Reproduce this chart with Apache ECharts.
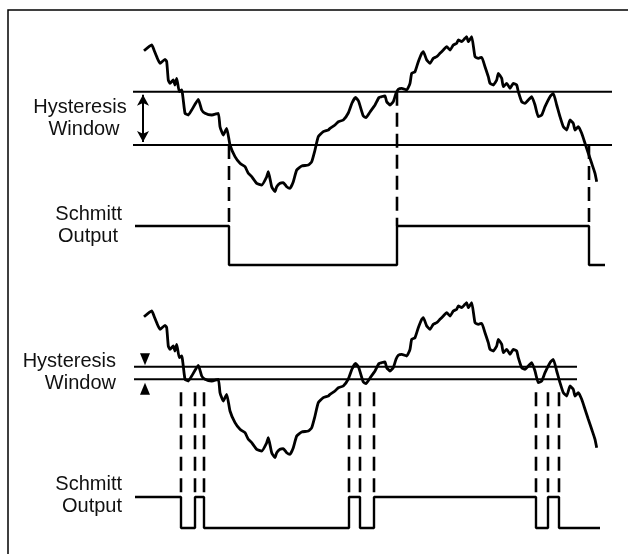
<!DOCTYPE html>
<html>
<head>
<meta charset="utf-8">
<title>Schmitt trigger hysteresis</title>
<script src="https://cdn.jsdelivr.net/npm/echarts@6/dist/echarts.min.js"></script>
<style>
  html, body { margin: 0; padding: 0; background: #fff; }
  #main { width: 628px; height: 554px; }
</style>
</head>
<body>
<div id="main"></div>
<script>
// input signal (time, level) - same noisy wave used in both panels
var sigT = [14, 21.7, 24, 26.7, 30, 35, 36.7, 38.3, 40, 43.3, 45, 46.7, 49.3, 51.7, 55, 58.3, 61.7, 68.3, 71.7, 75,
  81.7, 88.3, 90, 93.3, 96.7, 100, 105, 110, 115, 118.3, 121.7, 126.7, 131.7, 136.7, 138.3, 141.7, 145, 146.7, 150, 153.3,
  156.7, 160, 163.3, 166.7, 171.7, 178.3, 181.7, 185, 188.3, 193.3, 198.3, 200, 205, 208.3, 213.3, 218.3, 222, 225.5, 228.5, 233.3,
  236, 240, 245, 249, 252, 255, 256.7, 260, 263.3, 266, 268.3, 271.7, 276.7, 280, 281.7, 285, 288.3, 291.7, 293.3, 296.7,
  300, 303.3, 306.7, 310, 313.3, 316.7, 320, 323.3, 326.7, 328.3, 331.7, 335, 336.7, 338.3, 341.7, 345, 348.3, 351.7, 355, 358.3,
  360, 363.3, 366.7, 368.3, 371.7, 373.3, 376.7, 380, 383.3, 386.7, 388.3, 391.7, 395, 398.3, 401.7, 405, 408.3, 411.7, 415, 420,
  423.3, 426.7, 430, 433.3, 436.7, 440, 443.3, 445, 448.3, 451.7, 455, 458.3, 461.7, 465, 466.7];
var sigV = [149.3, 155, 150, 143.3, 136.7, 140.7, 138.3, 120, 116.7, 120, 115, 121.7, 108.3, 110, 86.7, 85, 90, 100.5, 90, 86.7,
  85, 86.7, 73.3, 65, 71.7, 55, 43.3, 36.7, 33.3, 26.7, 23.3, 16.7, 15, 23.3, 28.3, 13.3, 8.3, 13.3, 16.7, 17.3,
  13.3, 11.7, 18.3, 30, 34, 35, 38.3, 50, 63.3, 68.3, 70, 71.7, 75, 78.3, 80, 87, 97, 102.5, 99, 84,
  82.5, 88, 95, 102.5, 103.5, 104, 98.3, 95, 98.3, 106.7, 110.7, 111.7, 110, 116.7, 126.7, 128.3, 138.3, 146.7, 148.3, 140,
  136.7, 141.7, 143.3, 146.7, 150, 153.3, 150, 155, 156.7, 160, 158.3, 161.7, 163.3, 158.3, 163.3, 143.3, 141.7, 142.7, 133.3, 123.3,
  116.7, 115, 120, 126.7, 121.7, 113.3, 116.7, 111.7, 116.7, 115, 108.3, 98.3, 96.7, 100, 103.3, 95, 83.3, 85, 93.3, 103.3,
  106.7, 95, 83.3, 73.3, 70, 80, 76.7, 70, 73.3, 66.7, 56.7, 46.7, 36.7, 26.7, 18.3];

// thresholds (wide window on top, narrow window below)
var topUpper = 108.3, topLower = 55;
var botUpper = 99.3, botLower = 86.7;
var topLineSpan = [3, 482];
var botLineSpan = [4, 447];

// Schmitt output: edge times, starts high and toggles at every inner edge
var topEdges = [5, 99, 267, 459, 475];
var botEdges = [5, 51, 65, 74, 219, 230, 244, 406, 418, 429, 470];
var topOut = { high: -26, low: -65 };
var botOut = { high: -31, low: -62 };

// dashed markers: crossing time and the threshold they drop from
var topDash = [[99, topLower], [267, topUpper], [459, topLower]];
var botDash = [51, 65, 74, 219, 230, 244, 406, 418, 429];

var labels = [
  { text: 'Hysteresis', x: 80, y: 107, align: 'center' },
  { text: 'Window', x: 84, y: 129, align: 'center' },
  { text: 'Schmitt', x: 122, y: 214, align: 'right' },
  { text: 'Output', x: 118, y: 236, align: 'right' },
  { text: 'Hysteresis', x: 116, y: 361, align: 'right' },
  { text: 'Window', x: 116, y: 383, align: 'right' },
  { text: 'Schmitt', x: 122, y: 484, align: 'right' },
  { text: 'Output', x: 122, y: 506, align: 'right' }
];

var myChart = echarts.init(document.getElementById('main'), null, { renderer: 'canvas' });

function signalData() {
  return sigT.map(function (t, i) { return [t, sigV[i]]; });
}
function stepData(edges, lv) {
  var d = [], level = 1;
  d.push([edges[0], lv.high]);
  for (var i = 1; i < edges.length; i++) {
    d.push([edges[i], level ? lv.high : lv.low]);
    if (i < edges.length - 1) {
      level = 1 - level;
      d.push([edges[i], level ? lv.high : lv.low]);
    }
  }
  return d;
}
var black = '#000';
function lineSeries(gi, data, width, dash, extra) {
  var s = {
    type: 'line', xAxisIndex: gi, yAxisIndex: gi, data: data,
    symbol: 'none', silent: true, animation: false,
    lineStyle: { color: black, width: width, type: dash || 'solid', cap: 'butt' }
  };
  for (var k in extra) s[k] = extra[k];
  return s;
}

var series = [];
// signals
series.push(lineSeries(0, signalData(), 2.8, null, { smooth: 0.15 }));
series.push(lineSeries(1, signalData(), 2.8, null, { smooth: 0.15 }));
// threshold lines
series.push(lineSeries(0, [[topLineSpan[0], topUpper], [topLineSpan[1], topUpper]], 2, null, {
  markLine: {
    silent: true, animation: false, symbol: ['arrow', 'arrow'], symbolSize: [9, 11],
    label: { show: false }, lineStyle: { color: black, width: 2, type: 'solid' },
    data: [[{ coord: [13, topUpper - 3] }, { coord: [13, topLower + 3] }]]
  }
}));
series.push(lineSeries(0, [[topLineSpan[0], topLower], [topLineSpan[1], topLower]], 2));
series.push(lineSeries(1, [[botLineSpan[0], botUpper], [botLineSpan[1], botUpper]], 2, null, {
  markPoint: {
    silent: true, animation: false, symbol: 'triangle', symbolSize: [10, 12],
    itemStyle: { color: black }, label: { show: false },
    data: [
      { coord: [15, botUpper + 7.5], symbolRotate: 180 },
      { coord: [15, botLower - 9.5] }
    ]
  }
}));
series.push(lineSeries(1, [[botLineSpan[0], botLower], [botLineSpan[1], botLower]], 2));
// outputs
series.push(lineSeries(0, stepData(topEdges, topOut), 2.4));
series.push(lineSeries(1, stepData(botEdges, botOut), 2.4));
// dashed drop lines
topDash.forEach(function (d) {
  series.push(lineSeries(0, [[d[0], d[1]], [d[0], topOut.high]], 2.6, [14, 7]));
});
botDash.forEach(function (t) {
  series.push(lineSeries(1, [[t, botLower - 13], [t, botOut.high]], 2.6, [14, 7.5]));
});

var graphics = [{
  type: 'rect', shape: { x: 8, y: 10, width: 700, height: 700 },
  style: { fill: 'none', stroke: black, lineWidth: 1.5 }, silent: true
}];
labels.forEach(function (l) {
  graphics.push({
    type: 'text', x: l.x, y: l.y, silent: true,
    style: { text: l.text, fill: '#111', font: '20px "Liberation Sans", Arial, sans-serif',
      textAlign: l.align, textVerticalAlign: 'middle' }
  });
});

var option = {
  backgroundColor: '#fff',
  animation: false,
  grid: [
    { left: 130, right: 0, top: 0, height: 300 },
    { left: 130, right: 0, top: 254, height: 300 }
  ],
  xAxis: [
    { type: 'value', gridIndex: 0, min: 0, max: 498, show: false },
    { type: 'value', gridIndex: 1, min: 0, max: 498, show: false }
  ],
  yAxis: [
    { type: 'value', gridIndex: 0, min: -100, max: 200, show: false },
    { type: 'value', gridIndex: 1, min: -88, max: 212, show: false }
  ],
  graphic: graphics,
  series: series
};
myChart.setOption(option);
</script>
</body>
</html>
